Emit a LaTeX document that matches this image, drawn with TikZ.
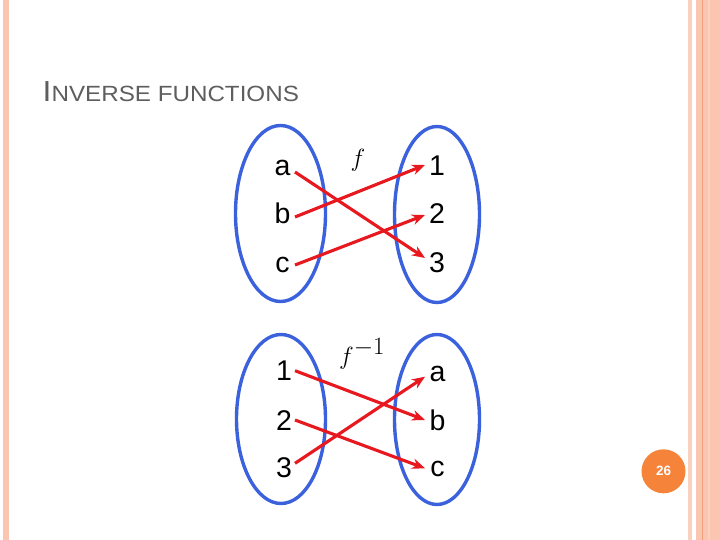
\documentclass[tikz,border=0pt]{standalone}
\usepackage{fontspec}
\setmainfont{Liberation Sans}
\usetikzlibrary{arrows.meta,calc}
\definecolor{stripelight}{HTML}{FAD0C0}
\definecolor{stripe}{HTML}{FBC6B1}
\definecolor{stripeline}{HTML}{F2A07C}
\definecolor{titlegray}{HTML}{5E5E5E}
\definecolor{setblue}{HTML}{3B62DC}
\definecolor{mapred}{HTML}{E8181F}
\definecolor{pageorange}{HTML}{F5833A}
\begin{document}
\begin{tikzpicture}[x=1pt,y=-1pt,
  lbl/.style={font=\fontsize{28.5}{30}\selectfont, inner sep=0pt, anchor=base},
  setline/.style={draw=setblue, line width=3.4pt},
  maparrow/.style={draw=mapred, line width=3.1pt, -{Stealth[length=13pt,width=10.5pt]}}]
\useasboundingbox (0,0) rectangle (720,540);
\fill[white] (0,0) rectangle (720,540);
% side stripes
\fill[stripe] (3,0) rectangle (9,540);
\fill[stripelight] (688,0) rectangle (692.3,540);
\fill[stripe] (695.7,0) rectangle (720,540);
\fill[stripeline] (701.7,0) rectangle (703.3,540);
\fill[stripelight] (707.7,0) rectangle (710,540);
% title
\node[anchor=base west, inner sep=0pt, text=titlegray] (title) at (42.5,101.7)
  {\scalebox{1.1}[1]{{\fontsize{29}{30}\selectfont I}{\fontsize{22}{24}\selectfont NVERSE FUNCTIONS}}};
% top diagram
\draw[setline] (280.5,213.5) ellipse [x radius=45, y radius=88];
\draw[setline] (437,214.5) ellipse [x radius=42.5, y radius=88];
\node[lbl] (ta) at (282.5,176) {a};
\node[lbl] (tb) at (282.5,223) {b};
\node[lbl] (tc) at (282.5,272) {c};
\node[lbl] (t1) at (437,176) {1};
\node[lbl] (t2) at (437,223) {2};
\node[lbl] (t3) at (437,272) {3};
\node[anchor=base, inner sep=0pt, font=\fontsize{36}{38}\selectfont] (tf) at (358,167) {$f$};
\draw[maparrow] ($(ta.base)+(12.5,-4)$) -- ($(t3.base)+(-12,-14)$);
\draw[maparrow] ($(tb.base)+(12.5,-6)$) -- ($(t1.base)+(-12,-11)$);
\draw[maparrow] ($(tc.base)+(12.5,-7)$) -- ($(t2.base)+(-12,-8)$);
% bottom diagram
\draw[setline] (281,419) ellipse [x radius=44.5, y radius=84.5];
\draw[setline] (437,419.5) ellipse [x radius=42.5, y radius=85];
\node[lbl] (b1) at (284,380) {1};
\node[lbl] (b2) at (284,430) {2};
\node[lbl] (b3) at (284,477) {3};
\node[lbl] (ba) at (437.5,381) {a};
\node[lbl] (bb) at (437.5,430) {b};
\node[lbl] (bc) at (437.5,476) {c};
\node[anchor=base west, inner sep=0pt, font=\fontsize{34}{36}\selectfont] (bf) at (339,364)
  {$f^{\hbox{\fontsize{24}{24}\selectfont$-1$}}$};
\draw[maparrow] ($(b1.base)+(11,-9.3)$) -- ($(bb.base)+(-12.5,-10)$);
\draw[maparrow] ($(b2.base)+(11,-10)$) -- ($(bc.base)+(-12.5,-7.7)$);
\draw[maparrow] ($(b3.base)+(11,-13.7)$) -- ($(ba.base)+(-12.5,-4.3)$);
% page number
\node[circle, fill=pageorange, minimum size=44pt, inner sep=0pt, text=white,
  font=\bfseries\fontsize{13.5}{14}\selectfont] (pg) at (663.5,471.3) {26};
\end{tikzpicture}
\end{document}
